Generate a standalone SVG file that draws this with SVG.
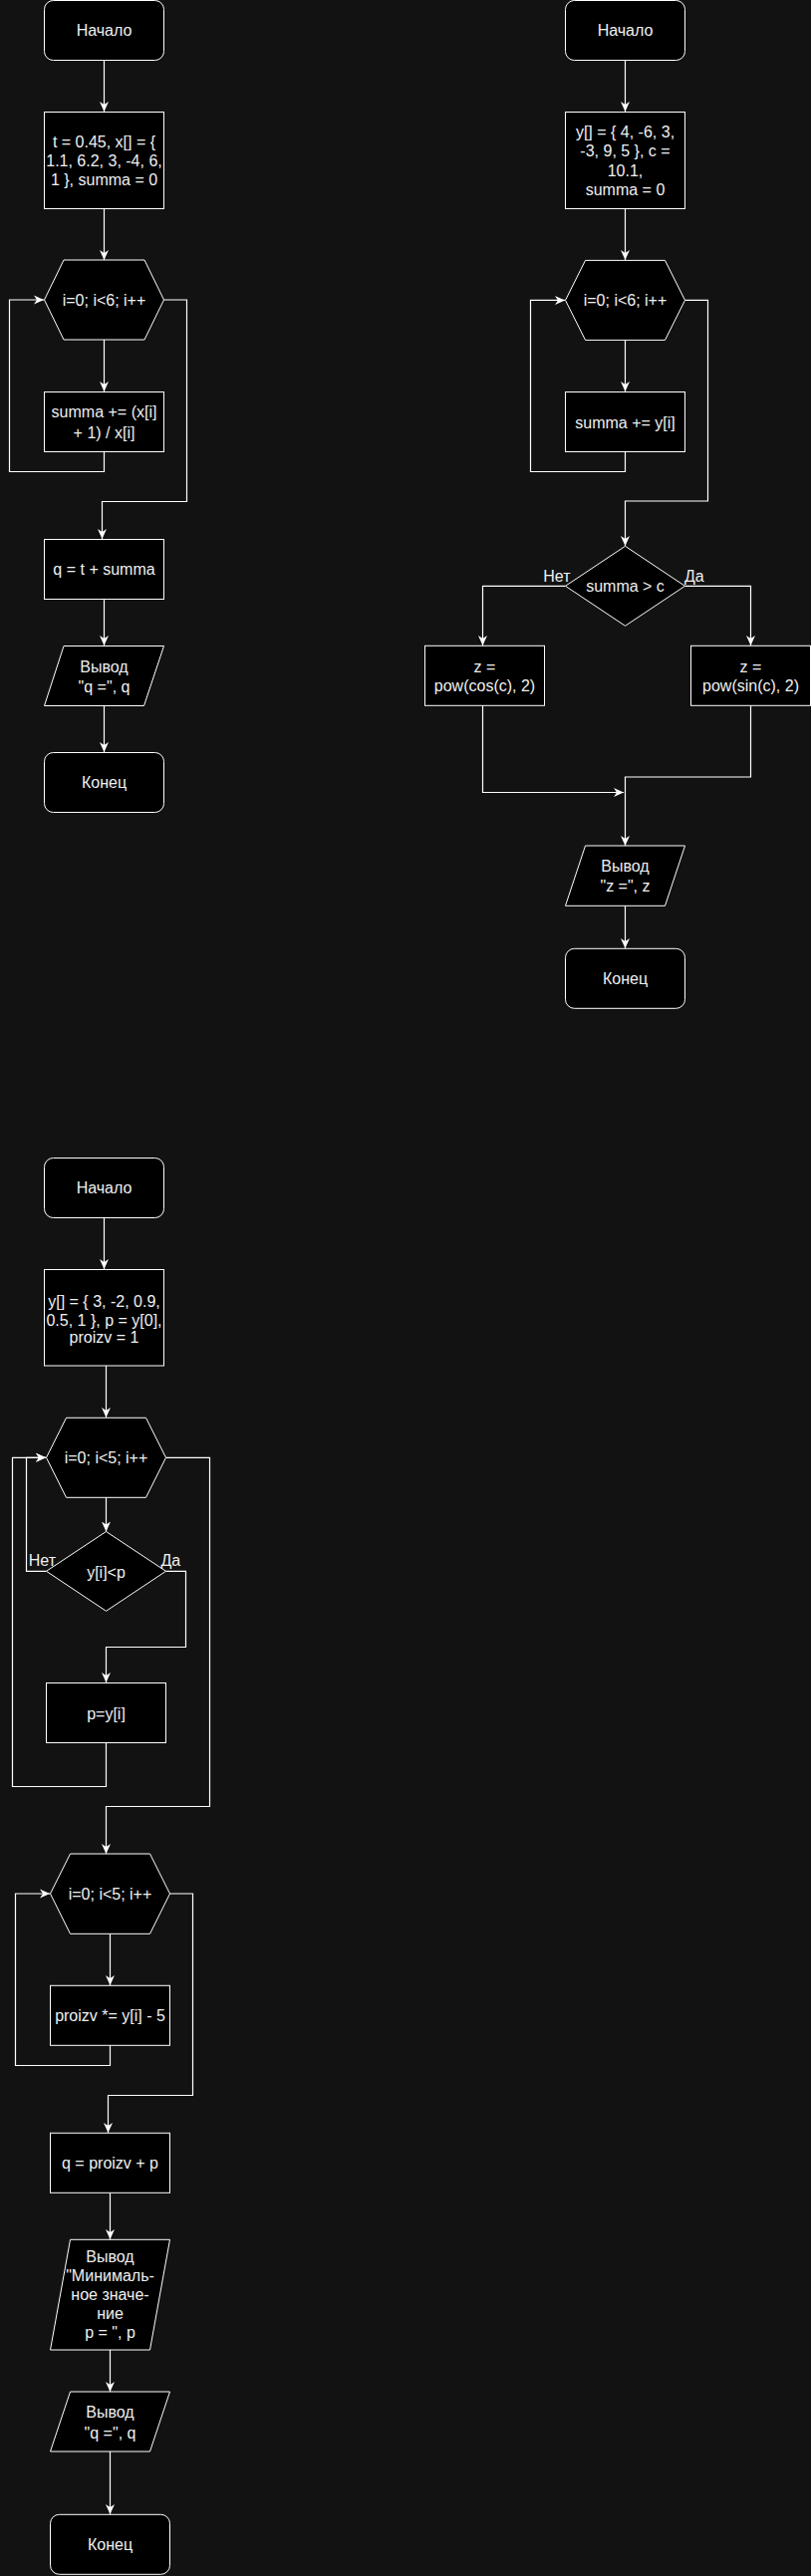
<svg xmlns="http://www.w3.org/2000/svg" width="814" height="2586" viewBox="0 0 814 2586">
<style>
.n{fill:#000000;stroke:#ffffff;stroke-width:1}
.t{font-family:"Liberation Sans",Arial,sans-serif;font-size:16px;fill:#f0f0f0;text-anchor:middle}
.l{font-family:"Liberation Sans",Arial,sans-serif;font-size:16px;fill:#f0f0f0}
.c{fill:none;stroke:#ffffff;stroke-width:1.2}
.a{marker-end:url(#arr)}
</style>
<defs>
<marker id="arr" markerUnits="userSpaceOnUse" viewBox="0 0 10 10" markerWidth="10" markerHeight="10" refX="10" refY="5" orient="auto">
<path d="M0,0.5 L10,5 L0,9.5 L3,5 Z" fill="#ffffff"/>
</marker>
</defs>
<rect width="814" height="2586" fill="#121212"/>

<g id="connectors">
<!-- chart 1 -->
<path class="c a" d="M104.5,60.5 V112"/>
<path class="c a" d="M104.5,209.5 V261"/>
<path class="c a" d="M104.5,341 V393"/>
<path class="c a" d="M104.5,453.5 V473.5 H9.5 V301 H44"/>
<path class="c a" d="M164.5,301 H187.5 V503.5 H102.5 V541"/>
<path class="c a" d="M104.5,601.5 V648"/>
<path class="c a" d="M104.5,708.5 V755"/>
<!-- chart 2 -->
<path class="c a" d="M627.5,60.5 V112"/>
<path class="c a" d="M627.5,209.5 V261"/>
<path class="c a" d="M627.5,341.4 V393"/>
<path class="c a" d="M627.5,453.5 V473.5 H532.5 V301.4 H567"/>
<path class="c a" d="M687.5,301.4 H710.5 V503 H627.5 V548"/>
<path class="c a" d="M567.5,588.3 H484.5 V648"/>
<path class="c a" d="M687.5,588.3 H753.5 V648"/>
<path class="c a" d="M484.5,708.3 V795.5 H626"/>
<path class="c a" d="M753.5,708.3 V780 H627.5 V849"/>
<path class="c a" d="M627.5,909.3 V952"/>
<!-- chart 3 -->
<path class="c a" d="M104.5,1222.5 V1274"/>
<path class="c a" d="M106.5,1371 V1423"/>
<path class="c a" d="M106.5,1503.3 V1537.5"/>
<path class="c a" d="M46.5,1577.3 H26.5 V1463.3 H46"/>
<path class="c a" d="M166.5,1577.3 H186.5 V1653.5 H106.5 V1689"/>
<path class="c a" d="M106.5,1749.5 V1793.5 H12.5 V1463.3 H46"/>
<path class="c a" d="M166.5,1463.3 H210.5 V1813.5 H106.5 V1861"/>
<path class="c a" d="M110.5,1941.3 V1993"/>
<path class="c a" d="M110.5,2053.3 V2073.5 H15.5 V1901 H50"/>
<path class="c a" d="M170.5,1901 H193.5 V2103.5 H108.5 V2141"/>
<path class="c a" d="M110.5,2201.3 V2248"/>
<path class="c a" d="M110.5,2359 V2401"/>
<path class="c a" d="M110.5,2461 V2524"/>
</g>

<!-- Chart 1 nodes -->
<g id="c1-start"><rect class="n" x="44.5" y="0.5" width="120" height="60" rx="9"/><text class="t" x="104.5" y="36">Начало</text></g>
<g id="c1-init"><rect class="n" x="44.5" y="112.5" width="120" height="97"/><text class="t" x="104.5"><tspan x="104.5" y="148.4">t = 0.45, x[] = {</tspan><tspan x="104.5" y="167.4">1.1, 6.2, 3, -4, 6,</tspan><tspan x="104.5" y="186.2">1 }, summa = 0</tspan></text></g>
<g id="c1-loop"><polygon class="n" points="64,261 145,261 164.5,301 145,341 64,341 44.5,301"/><text class="t" x="104.5" y="306.7">i=0; i&lt;6; i++</text></g>
<g id="c1-body"><rect class="n" x="44.5" y="393.5" width="120" height="60"/><text class="t"><tspan x="104.5" y="419">summa += (x[i]</tspan><tspan x="104.5" y="439.5">+ 1) / x[i]</tspan></text></g>
<g id="c1-q"><rect class="n" x="44.5" y="541.5" width="120" height="60"/><text class="t" x="104.5" y="577.2">q = t + summa</text></g>
<g id="c1-out"><polygon class="n" points="64,648.5 164.5,648.5 144.5,708.5 44.5,708.5"/><text class="t"><tspan x="104.5" y="674.7">Вывод</tspan><tspan x="104.5" y="695">"q =", q</tspan></text></g>
<g id="c1-end"><rect class="n" x="44.5" y="755.5" width="120" height="60" rx="9"/><text class="t" x="104.5" y="791.2">Конец</text></g>

<!-- Chart 2 nodes -->
<g id="c2-start"><rect class="n" x="567.5" y="0.5" width="120" height="60" rx="9"/><text class="t" x="627.5" y="36">Начало</text></g>
<g id="c2-init"><rect class="n" x="567.5" y="112.5" width="120" height="97"/><text class="t"><tspan x="627.5" y="137.8">y[] = { 4, -6, 3,</tspan><tspan x="627.5" y="157.4">-3, 9, 5 }, c =</tspan><tspan x="627.5" y="177">10.1,</tspan><tspan x="627.5" y="196">summa = 0</tspan></text></g>
<g id="c2-loop"><polygon class="n" points="587.5,261.4 667.5,261.4 687.5,301.4 667.5,341.4 587.5,341.4 567.5,301.4"/><text class="t" x="627.5" y="307.1">i=0; i&lt;6; i++</text></g>
<g id="c2-body"><rect class="n" x="567.5" y="393.5" width="120" height="60"/><text class="t" x="627.5" y="429.6">summa += y[i]</text></g>
<g id="c2-cond"><polygon class="n" points="627.5,548.3 687.5,588.3 627.5,628.3 567.5,588.3"/><text class="t" x="627.5" y="594">summa &gt; c</text></g>
<g id="c2-labels"><text class="l" x="572.5" y="584" text-anchor="end">Нет</text><text class="l" x="687" y="584">Да</text></g>
<g id="c2-cos"><rect class="n" x="426.5" y="648.3" width="120" height="60"/><text class="t"><tspan x="486.5" y="674.7">z =</tspan><tspan x="486.5" y="694.4">pow(cos(c), 2)</tspan></text></g>
<g id="c2-sin"><rect class="n" x="693.5" y="648.3" width="120" height="60"/><text class="t"><tspan x="753.5" y="674.7">z =</tspan><tspan x="753.5" y="694.4">pow(sin(c), 2)</tspan></text></g>
<g id="c2-out"><polygon class="n" points="587.5,849 687.5,849 667.5,909.3 567.5,909.3"/><text class="t"><tspan x="627.5" y="875">Вывод</tspan><tspan x="627.5" y="895">"z =", z</tspan></text></g>
<g id="c2-end"><rect class="n" x="567.5" y="952.3" width="120" height="60" rx="9"/><text class="t" x="627.5" y="988">Конец</text></g>

<!-- Chart 3 nodes -->
<g id="c3-start"><rect class="n" x="44.5" y="1162.5" width="120" height="60" rx="9"/><text class="t" x="104.5" y="1198">Начало</text></g>
<g id="c3-init"><rect class="n" x="44.5" y="1274.5" width="120" height="96.5"/><text class="t"><tspan x="104.5" y="1312.4">y[] = { 3, -2, 0.9,</tspan><tspan x="104.5" y="1330.7">0.5, 1 }, p = y[0],</tspan><tspan x="104.5" y="1348.4">proizv = 1</tspan></text></g>
<g id="c3-loop1"><polygon class="n" points="66.5,1423.3 146.5,1423.3 166.5,1463.3 146.5,1503.3 66.5,1503.3 46.5,1463.3"/><text class="t" x="106.5" y="1469">i=0; i&lt;5; i++</text></g>
<g id="c3-cond"><polygon class="n" points="106.5,1537.5 166.5,1577.3 106.5,1617.3 46.5,1577.3"/><text class="t" x="106.5" y="1583.7">y[i]&lt;p</text></g>
<g id="c3-labels"><text class="l" x="56" y="1571.7" text-anchor="end">Нет</text><text class="l" x="161.5" y="1571.7">Да</text></g>
<g id="c3-assign"><rect class="n" x="46.5" y="1689.5" width="120" height="60"/><text class="t" x="106.5" y="1725.7">p=y[i]</text></g>
<g id="c3-loop2"><polygon class="n" points="70.5,1861 150.5,1861 170.5,1901 150.5,1941.3 70.5,1941.3 50.5,1901"/><text class="t" x="110.5" y="1906.7">i=0; i&lt;5; i++</text></g>
<g id="c3-body2"><rect class="n" x="50.5" y="1993.3" width="120" height="60"/><text class="t" x="110.5" y="2029.4">proizv *= y[i] - 5</text></g>
<g id="c3-q"><rect class="n" x="50.5" y="2141.3" width="120" height="60"/><text class="t" x="110.5" y="2177.4">q = proizv + p</text></g>
<g id="c3-out1"><polygon class="n" points="70.5,2248.3 170.5,2248.3 150.5,2359 50.5,2359"/><text class="t"><tspan x="110.5" y="2271.4">Вывод</tspan><tspan x="110.5" y="2290.4">"Минималь-</tspan><tspan x="110.5" y="2309.4">ное значе-</tspan><tspan x="110.5" y="2328">ние</tspan><tspan x="110.5" y="2346.7">p = ", p</tspan></text></g>
<g id="c3-out2"><polygon class="n" points="70.5,2401 170.5,2401 150.5,2461 50.5,2461"/><text class="t"><tspan x="110.5" y="2427.4">Вывод</tspan><tspan x="110.5" y="2448">"q =", q</tspan></text></g>
<g id="c3-end"><rect class="n" x="50.5" y="2524.3" width="120" height="60" rx="9"/><text class="t" x="110.5" y="2559.7">Конец</text></g>
</svg>
